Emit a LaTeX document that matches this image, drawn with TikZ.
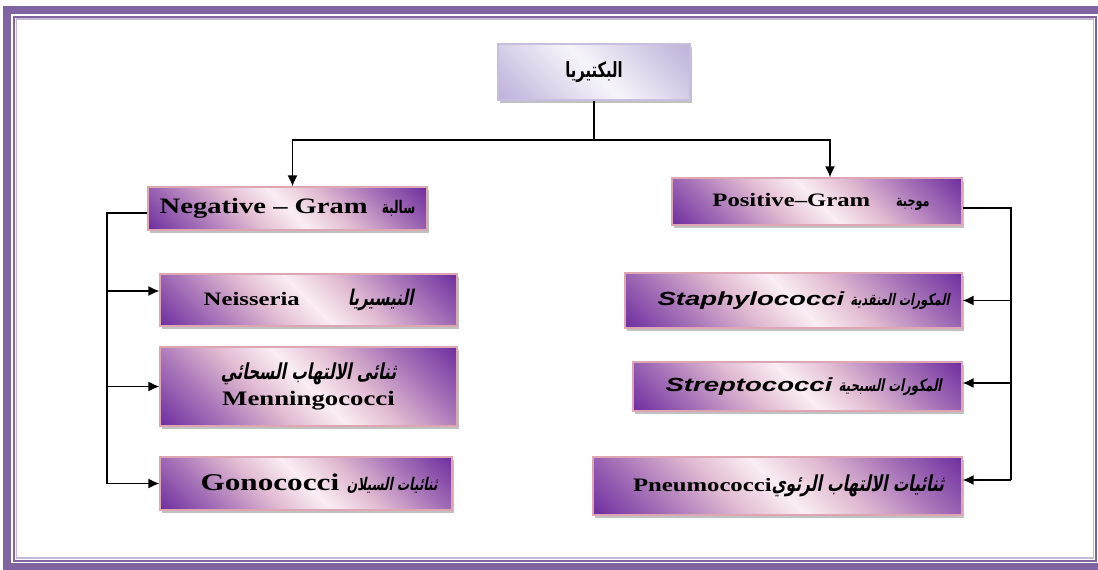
\documentclass[tikz,border=0pt]{standalone}
\usepackage{fontspec}
\setmainfont[FakeStretch=1.3]{Liberation Serif}
\newfontfamily\sansit[FakeStretch=1.45]{Liberation Sans}
\newfontfamily\arabicfont[Script=Arabic,FakeSlant=0.2,FakeStretch=0.7]{DejaVu Sans}
\newfontfamily\arabicup[Script=Arabic,FakeStretch=0.7]{DejaVu Sans}
\TeXXeTstate=1
\usetikzlibrary{arrows.meta,shadows}

\definecolor{framepurple}{RGB}{128,100,162}
\definecolor{boxviolet}{RGB}{112,48,160}
\definecolor{boxpink}{RGB}{226,188,210}
\definecolor{boxlight}{RGB}{250,238,244}
\definecolor{boxedge}{RGB}{222,165,178}
\definecolor{toplav}{RGB}{200,190,224}

\pgfdeclarehorizontalshading{boxshade}{100bp}{color(0bp)=(boxviolet); color(15bp)=(boxviolet); color(28bp)=(boxviolet!50!boxpink); color(40bp)=(boxpink); color(50bp)=(boxlight); color(60bp)=(boxpink); color(72bp)=(boxviolet!50!boxpink); color(85bp)=(boxviolet); color(100bp)=(boxviolet)}
\pgfdeclarehorizontalshading{topshade}{100bp}{color(0bp)=(toplav!70!boxviolet); color(22bp)=(toplav); color(50bp)=(white!85!toplav); color(78bp)=(toplav); color(100bp)=(toplav!70!boxviolet)}

\newcommand\artxt[2][9.5]{{\fontsize{#1}{13}\arabicfont\bfseries\beginR #2\endR}}
\newcommand\arup[2][9.5]{{\fontsize{#1}{13}\arabicup\bfseries\beginR #2\endR}}
\newcommand\latit[1]{{\sansit\bfseries\itshape #1}}

\tikzset{
  bact/.style={draw=boxedge, line width=0.6pt, shading=boxshade, shading angle=45,
    drop shadow={shadow xshift=0.8pt, shadow yshift=-1.5pt, fill=gray!70, opacity=0.7},
    align=center, inner sep=2pt, font=\fontsize{9.5}{13}\selectfont},
  link/.style={line width=0.75pt},
  tip/.style={link, -{Latex[length=5.5pt,width=5pt]}},
}

\begin{document}
\begin{tikzpicture}[x=0.5pt, y=-0.5pt]
    \useasboundingbox (0,0) rectangle (1098,569);
    % frame
    \draw[framepurple, line width=4pt] (7,9.5) rectangle (1106,567);
    \draw[framepurple, line width=1pt] (14,16.5) rectangle (1096,560.5);
    \draw[framepurple!45, line width=0.8pt] (16.5,19) rectangle (1093.5,558);
    % root
    \node[bact, shading=topshade, draw=toplav, minimum width=96pt, minimum height=28pt] (root) at (594,72)
      {\arup[10.5]{البكتيريا}};
    % gram groups
    \node[bact, minimum width=139.5pt, minimum height=21.5pt, font=\fontsize{11}{13}\selectfont] (neg) at (287.5,208.5)
      {\textbf{Negative – Gram}\hspace{7pt}\arup[8.7]{سالبة}};
    \node[bact, minimum width=145pt, minimum height=23.5pt] (pos) at (817,201.5)
      {\hspace{4pt}\textbf{Positive–Gram}\hspace{13pt}\arup[8]{موجبة}};
    % negative side
    \node[bact, minimum width=148.5pt, minimum height=26pt] (neis) at (308.5,300)
      {\textbf{Neisseria}\hspace{24pt}\artxt[10.8]{النيسيريا}};
    \node[bact, minimum width=148.5pt, minimum height=39.5pt] (menn) at (308.5,386.5)
      {\artxt[11]{ثنائى الالتهاب السحائي}\\ {\fontsize{10.3}{13}\selectfont\textbf{Menningococci}}};
    \node[bact, minimum width=146pt, minimum height=26.5pt, font=\fontsize{12}{13}\selectfont] (gono) at (306,483.5)
      {\hspace{13pt}\textbf{Gonococci} \artxt[8.7]{ثنائيات السيلان}};
    % positive side
    \node[bact, minimum width=168.5pt, minimum height=27.5pt] (staph) at (793.5,300.5)
      {\hspace{10pt}\latit{Staphylococci} \artxt[8]{المكورات العنقدية}};
    \node[bact, minimum width=164.5pt, minimum height=24.5pt] (strep) at (797.5,386.5)
      {\hspace{6pt}\latit{Streptococci} \artxt[8.4]{المكورات السبحية}};
    \node[bact, minimum width=184.5pt, minimum height=29pt] (pneu) at (777.5,486)
      {\hspace{11pt}\textbf{Pneumococci}\artxt[11]{ثنائيات الالتهاب الرئوي}};
    % split from root
    \coordinate (split) at (root.south |- 0,140);
    \draw[link] (root.south) -- (split);
    \draw[tip] (split) -| ([xshift=2.5pt]neg.north);
    \draw[tip] (split) -| ([xshift=6.5pt]pos.north);
    % negative trunk
    \coordinate (ltrunk) at (107,213);
    \draw[link] (neg.west |- ltrunk) -- (ltrunk) -- (ltrunk |- gono.west);
    \draw[tip] (ltrunk |- 0,291) -- (neis.west |- 0,291);
    \draw[tip] (ltrunk |- menn.west) -- (menn.west);
    \draw[tip] (ltrunk |- gono.west) -- (gono.west);
    % positive trunk
    \coordinate (rtrunk) at (1011,208);
    \draw[link] (pos.east |- rtrunk) -- (rtrunk) -- (rtrunk |- 0,480);
    \draw[tip] (rtrunk |- staph.east) -- (staph.east);
    \draw[tip] (rtrunk |- 0,383) -- (strep.east |- 0,383);
    \draw[tip] (rtrunk |- 0,480) -- (pneu.east |- 0,480);
\end{tikzpicture}
\end{document}
